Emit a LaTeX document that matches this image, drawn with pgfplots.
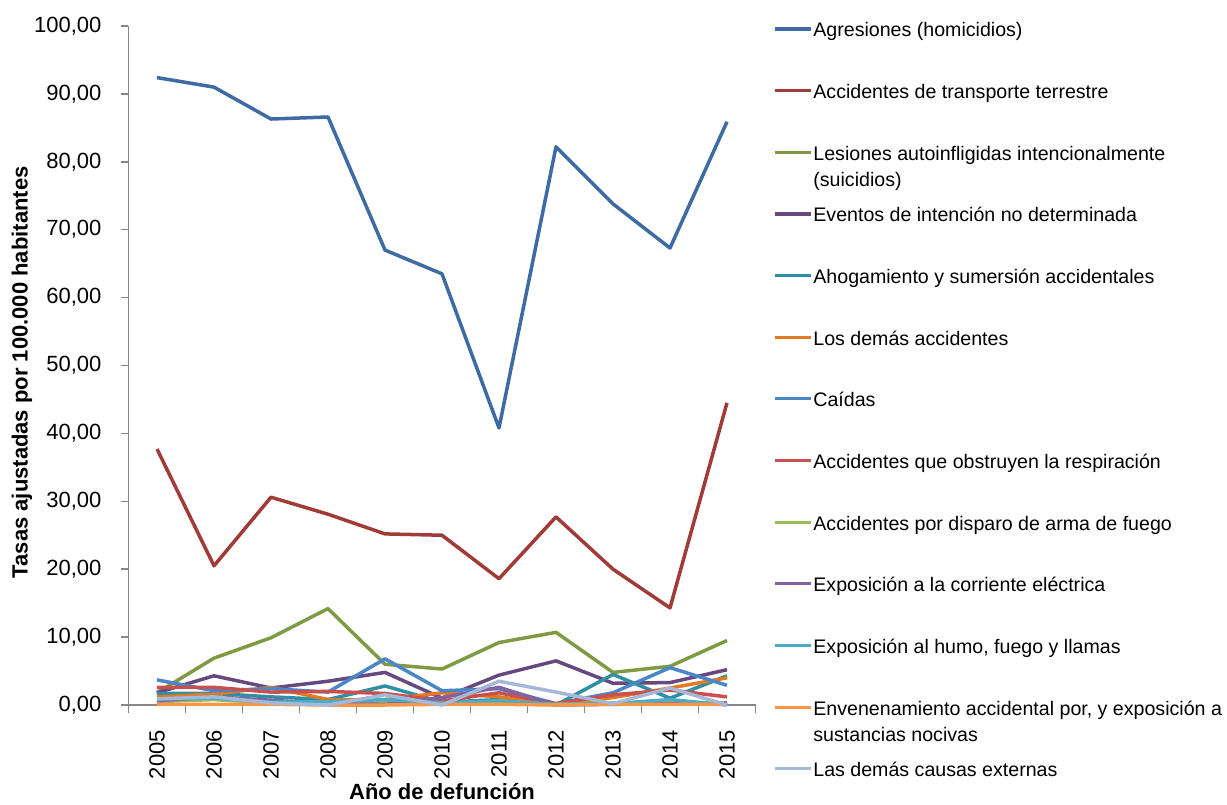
\documentclass[border=0pt]{standalone}
\usepackage{fontspec}
\setmainfont{Liberation Sans}
\usepackage{pgfplots}
\pgfplotsset{compat=1.18}
\definecolor{axisgray}{HTML}{868686}
\definecolor{cA}{HTML}{3E6BA3}
\definecolor{cB}{HTML}{A03B38}
\definecolor{cC}{HTML}{7F9A43}
\definecolor{cD}{HTML}{65497F}
\definecolor{cE}{HTML}{2E8FA5}
\definecolor{cF}{HTML}{E07B24}
\definecolor{cG}{HTML}{4A86C8}
\definecolor{cH}{HTML}{C9504D}
\definecolor{cI}{HTML}{9BBB59}
\definecolor{cJ}{HTML}{8064A2}
\definecolor{cK}{HTML}{4BACC6}
\definecolor{cL}{HTML}{F79646}
\definecolor{cM}{HTML}{A5B8D9}
\begin{document}
\begin{tikzpicture}
\path[use as bounding box] (0,0) rectangle (613.5pt,402pt);
\begin{axis}[
  at={(64.25pt,49.5pt)}, anchor=south west,
  scale only axis, width=313.5pt, height=339.5pt,
  xmin=2004.5, xmax=2015.5, ymin=0, ymax=100,
  axis x line*=bottom, axis y line*=left,
  axis line style={draw=axisgray, line width=0.75pt, -},
  tick align=outside,
  ytick={0,10,...,100},
  major tick length=4pt, minor tick length=4pt,
  every tick/.style={draw=axisgray, line width=0.75pt},
  yticklabel style={font=\fontsize{11}{13}\selectfont, xshift=-6pt, /pgf/number format/.cd, fixed, fixed zerofill, precision=2, use comma, assume math mode=true},
  xtick={2005,2006,2007,2008,2009,2010,2011,2012,2013,2014,2015},
  xticklabels={2005,2006,2007,2008,2009,2010,2011,2012,2013,2014,2015},
  major x tick style={draw=none},
  minor xtick={2004.5,2005.5,2006.5,2007.5,2008.5,2009.5,2010.5,2011.5,2012.5,2013.5,2014.5,2015.5},
  xticklabel style={font=\fontsize{11}{13}\selectfont, rotate=90, anchor=east, yshift=0pt, xshift=-5pt},
  xlabel={Año de defunción},
  ylabel={Tasas ajustadas por 100.000 habitantes},
  every axis x label/.style={at={(axis description cs:0.5,-0.1399)}, anchor=base, font=\fontsize{11}{13}\selectfont\bfseries},
  every axis y label/.style={at={(axis description cs:-0.1699,0.49)}, rotate=90, anchor=center, font=\fontsize{11}{13}\selectfont\bfseries},
  every axis plot/.append style={line width=1.75pt, mark=none, line join=round},
  clip=false,
]
\addplot[cA] coordinates {(2005,92.4)(2006,91.0)(2007,86.3)(2008,86.6)(2009,67.0)(2010,63.5)(2011,40.8)(2012,82.2)(2013,73.8)(2014,67.3)(2015,85.9)};
\addplot[cB] coordinates {(2005,37.7)(2006,20.5)(2007,30.6)(2008,28.1)(2009,25.2)(2010,25.0)(2011,18.6)(2012,27.7)(2013,20.0)(2014,14.3)(2015,44.5)};
\addplot[cC] coordinates {(2005,1.8)(2006,6.9)(2007,9.9)(2008,14.2)(2009,6.0)(2010,5.3)(2011,9.2)(2012,10.7)(2013,4.8)(2014,5.7)(2015,9.5)};
\addplot[cD] coordinates {(2005,1.8)(2006,4.3)(2007,2.5)(2008,3.5)(2009,4.8)(2010,1.0)(2011,4.4)(2012,6.5)(2013,3.2)(2014,3.3)(2015,5.2)};
\addplot[cE] coordinates {(2005,1.7)(2006,1.7)(2007,1.2)(2008,0.8)(2009,2.8)(2010,0.4)(2011,0.8)(2012,0.0)(2013,4.5)(2014,1.0)(2015,4.3)};
\addplot[cF] coordinates {(2005,1.2)(2006,1.6)(2007,2.6)(2008,0.8)(2009,0.8)(2010,1.8)(2011,1.2)(2012,0.1)(2013,1.1)(2014,2.5)(2015,4.0)};
\addplot[cG] coordinates {(2005,3.7)(2006,2.1)(2007,2.4)(2008,1.9)(2009,6.8)(2010,2.1)(2011,2.4)(2012,0.2)(2013,1.8)(2014,5.5)(2015,2.9)};
\addplot[cH] coordinates {(2005,2.6)(2006,2.6)(2007,1.9)(2008,2.0)(2009,1.7)(2010,0.6)(2011,1.8)(2012,0.2)(2013,1.5)(2014,2.2)(2015,1.2)};
\addplot[cI] coordinates {(2005,0.5)(2006,0.8)(2007,0.3)(2008,0.3)(2009,0.5)(2010,0.2)(2011,0.6)(2012,0.1)(2013,0.3)(2014,0.4)(2015,0.1)};
\addplot[cJ] coordinates {(2005,0.6)(2006,1.2)(2007,0.7)(2008,0.2)(2009,0.1)(2010,1.1)(2011,2.6)(2012,0.0)(2013,0.1)(2014,0.2)(2015,0.3)};
\addplot[cK] coordinates {(2005,0.9)(2006,1.0)(2007,0.4)(2008,0.5)(2009,0.8)(2010,0.3)(2011,0.6)(2012,0.1)(2013,0.2)(2014,0.8)(2015,0.0)};
\addplot[cL] coordinates {(2005,0.1)(2006,0.1)(2007,0.1)(2008,0.0)(2009,0.0)(2010,0.1)(2011,0.1)(2012,0.0)(2013,0.1)(2014,0.1)(2015,0.1)};
\addplot[cM] coordinates {(2005,0.9)(2006,1.2)(2007,0.3)(2008,0.0)(2009,1.5)(2010,0.0)(2011,3.5)(2012,1.9)(2013,0.2)(2014,2.5)(2015,0.0)};
\end{axis}
\foreach \i/\c/\t/\u in {
 0/cA/{Agresiones (homicidios)}/{},
 1/cB/{Accidentes de transporte terrestre}/{},
 2/cC/{Lesiones autoinfligidas intencionalmente}/{(suicidios)},
 3/cD/{Eventos de intención no determinada}/{},
 4/cE/{Ahogamiento y sumersión accidentales}/{},
 5/cF/{Los demás accidentes}/{},
 6/cG/{Caídas}/{},
 7/cH/{Accidentes que obstruyen la respiración}/{},
 8/cI/{Accidentes por disparo de arma de fuego}/{},
 9/cJ/{Exposición a la corriente eléctrica}/{},
 10/cK/{Exposición al humo, fuego y llamas}/{},
 11/cL/{Envenenamiento accidental por, y exposición a}/{sustancias nocivas},
 12/cM/{Las demás causas externas}/{}}{
  \pgfmathsetmacro{\ym}{387.5-30.825*\i}
  \pgfmathsetmacro{\yb}{\ym-4}
  \pgfmathsetmacro{\yc}{\yb-13.3}
  \draw[\c, line width=1.6pt] (387.5pt,\ym pt) -- (405.5pt,\ym pt);
  \node[anchor=base west, inner sep=0pt, font=\fontsize{9.8}{12}\selectfont] at (406.5pt,\yb pt) {\t};
  \node[anchor=base west, inner sep=0pt, font=\fontsize{9.8}{12}\selectfont] at (406.5pt,\yc pt) {\u};
}
\end{tikzpicture}
\end{document}
